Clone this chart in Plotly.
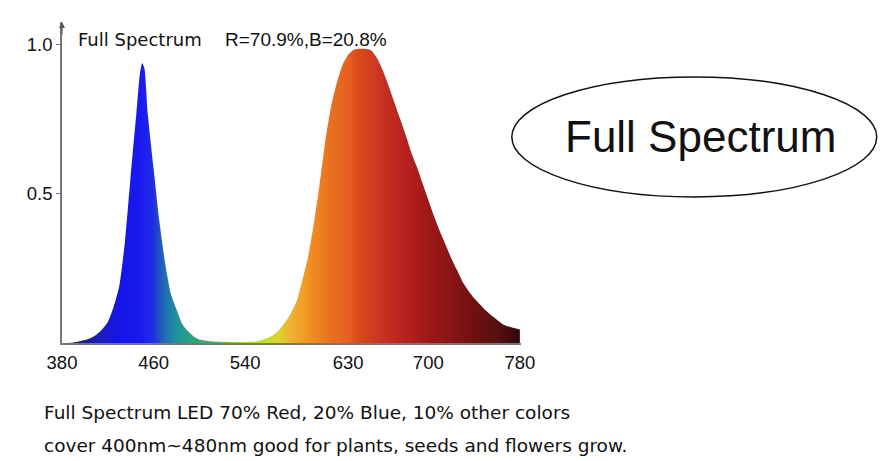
import plotly.graph_objects as go

# spectrum (wavelength nm -> relative intensity)
wavelength = [380, 390, 400, 405, 410, 415, 420, 425, 430, 435, 440, 445, 448, 450, 452,
              455, 460, 465, 470, 475, 480, 485, 490, 495, 500, 510, 520, 530, 540, 550,
              560, 565, 570, 575, 580, 585, 590, 595, 600, 605, 610, 615, 620, 625, 630,
              635, 640, 645, 650, 655, 660, 665, 670, 675, 680, 685, 690, 695, 700, 705,
              710, 715, 720, 725, 730, 735, 740, 745, 750, 755, 760, 765, 770, 775, 780]
intensity = [0.0, 0.002, 0.01, 0.017, 0.028, 0.045, 0.07, 0.12, 0.19, 0.34, 0.56, 0.77, 0.9, 0.938, 0.92,
             0.765, 0.585, 0.41, 0.27, 0.167, 0.113, 0.064, 0.04, 0.022, 0.012, 0.006, 0.004, 0.003, 0.003, 0.006,
             0.018, 0.028, 0.045, 0.07, 0.10, 0.14, 0.21, 0.29, 0.40, 0.53, 0.675, 0.79, 0.87, 0.93, 0.965,
             0.982, 0.985, 0.985, 0.98, 0.955, 0.915, 0.865, 0.81, 0.755, 0.70, 0.64, 0.59, 0.535, 0.48, 0.425,
             0.375, 0.33, 0.285, 0.245, 0.205, 0.175, 0.15, 0.13, 0.11, 0.093, 0.078, 0.063, 0.055, 0.05, 0.045]

# colour of the light at each wavelength
color_nm = [380, 400, 410, 420, 430, 450, 460, 465, 470, 480, 490, 500, 510, 520, 540,
            560, 570, 580, 590, 600, 615, 630, 640, 650, 660, 680, 700, 720, 740, 760, 780]
color_hex = ['#14146a', '#1a1a90', '#2020b0', '#1818d0', '#1515e8', '#1a1af0', '#2030e0', '#2050c8',
             '#2070b0', '#2090a0', '#25a080', '#30a870', '#40b060', '#60c050', '#a0e040',
             '#c8e030', '#e0d030', '#f0b030', '#f0a028', '#f08a20', '#e87020', '#e86020', '#d84818',
             '#d04020', '#c83020', '#b82020', '#a01818', '#8a1414', '#701010', '#581010', '#300808']

x_ticks = [380, 460, 540, 630, 700, 780]
y_ticks = [0.5, 1.0]

colorscale = [[(n - 380) / 400, c] for n, c in zip(color_nm, color_hex)]

fig = go.Figure()
fig.add_trace(go.Scatter(
    x=wavelength, y=intensity, mode='lines', fill='tozeroy',
    line=dict(width=0, shape='spline', smoothing=0.6, color='rgba(0,0,0,0)'),
    fillgradient=dict(type='horizontal', colorscale=colorscale, start=380, stop=780),
    showlegend=False, hoverinfo='skip'))

axis_font = dict(family='Liberation Sans, Arial', size=18.5, color='#111')
fig.update_xaxes(range=[380, 781], tickvals=x_ticks, showgrid=False, zeroline=False,
                 showline=True, linecolor='#777', linewidth=1.5, ticks='',
                 tickfont=axis_font, ticklabelstandoff=2, automargin=False)
fig.update_yaxes(range=[0, 1.075], tickvals=y_ticks, ticktext=['0.5', '1.0'], showgrid=False,
                 zeroline=False, showline=True, linecolor='#777', linewidth=1.5,
                 ticks='outside', ticklen=4, tickcolor='#777', tickfont=axis_font,
                 automargin=False)

# arrow head on the y axis
fig.add_annotation(x=380, y=1.075, xref='x', yref='y', ax=0, ay=14, showarrow=True,
                   arrowhead=2, arrowsize=1, arrowwidth=1.2, arrowcolor='#555', text='')

fig.add_annotation(x=0.03, y=0.947, xref='paper', yref='paper', xanchor='left', yanchor='middle',
                   text='Full Spectrum', showarrow=False,
                   font=dict(family='DejaVu Sans', size=18, color='#111'))
fig.add_annotation(x=0.35, y=0.944, xref='paper', yref='paper', xanchor='left', yanchor='middle',
                   text='R=70.9%,B=20.8%', showarrow=False,
                   font=dict(family='Liberation Sans, Arial', size=19, color='#111'))

# the oval label on the right
fig.add_shape(type='circle', xref='paper', yref='paper', x0=0.98, x1=1.775, y0=0.455, y1=0.829,
              line=dict(color='#111', width=1.5))
fig.add_annotation(x=1.39, y=0.642, xref='paper', yref='paper', xanchor='center', yanchor='middle',
                   text='Full Spectrum', showarrow=False,
                   font=dict(family='Liberation Sans, Arial', size=44, color='#111'))

# description under the chart
fig.add_annotation(x=-0.044, y=-0.218, xref='paper', yref='paper', xanchor='left', yanchor='middle',
                   text='Full Spectrum LED 70% Red, 20% Blue, 10% other colors', showarrow=False,
                   font=dict(family='DejaVu Sans', size=18.5, color='#111'))
fig.add_annotation(x=-0.044, y=-0.318, xref='paper', yref='paper', xanchor='left', yanchor='middle',
                   text='cover 400nm~480nm good for plants, seeds and flowers grow.', showarrow=False,
                   font=dict(family='DejaVu Sans', size=18.5, color='#111'))

# page body keeps an 8px margin, so the figure is 8px smaller than the window
fig.update_layout(width=883, height=453, margin=dict(l=54, r=370, t=14, b=118),
                  plot_bgcolor='white', paper_bgcolor='white')

fig.write_html('out.html')
